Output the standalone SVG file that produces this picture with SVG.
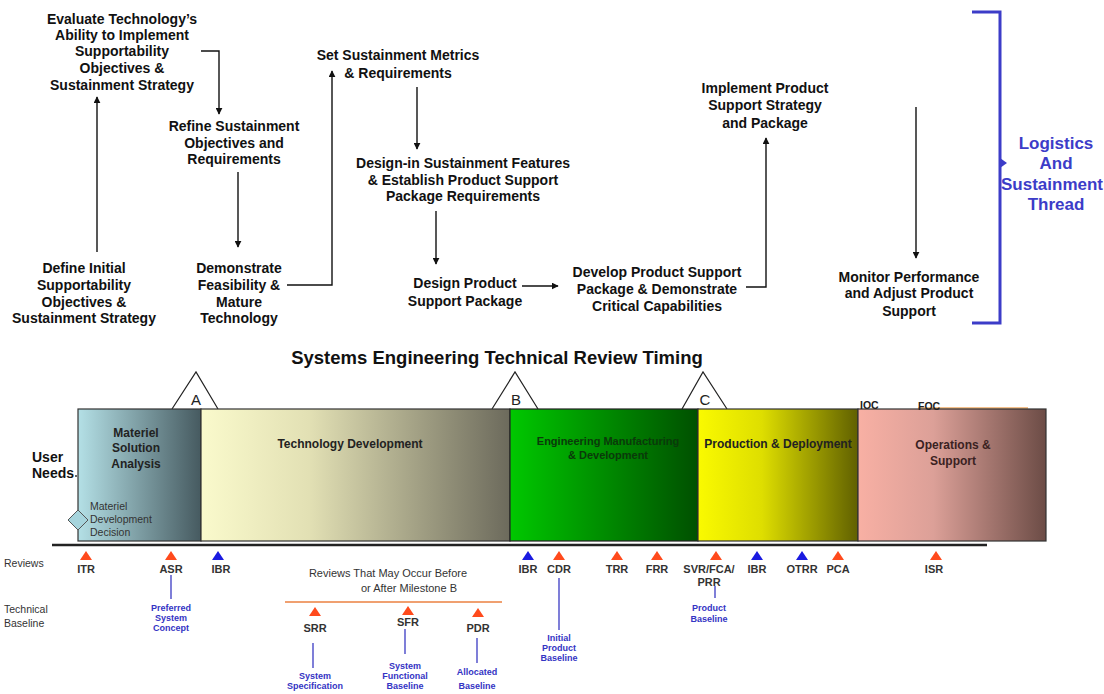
<svg xmlns="http://www.w3.org/2000/svg" width="1104" height="694" viewBox="0 0 1104 694">
  <style>
    .step { font-family: "Liberation Sans", Arial, sans-serif; font-weight: bold; font-size: 14px; fill: #111; text-anchor: middle; }
    .thread { font-family: "Liberation Sans", Arial, sans-serif; font-weight: bold; font-size: 17px; fill: #3c3cc8; text-anchor: middle; }
    .title { font-family: "Liberation Sans", Arial, sans-serif; font-weight: bold; font-size: 18.5px; fill: #111; text-anchor: middle; }
    .phase { font-family: "Liberation Sans", Arial, sans-serif; font-weight: bold; font-size: 12px; fill: #222; text-anchor: middle; }
    .ms { font-family: "Liberation Sans", Arial, sans-serif; font-size: 15px; fill: #222; text-anchor: middle; }
    .small { font-family: "Liberation Sans", Arial, sans-serif; font-size: 10.5px; fill: #333; }
    .rev { font-family: "Liberation Sans", Arial, sans-serif; font-weight: bold; font-size: 11px; fill: #333; text-anchor: middle; }
    .base { font-family: "Liberation Sans", Arial, sans-serif; font-weight: bold; font-size: 9px; fill: #3434c4; text-anchor: middle; }
    .flow { fill: none; stroke: #111; stroke-width: 1.4; }
    .tick { stroke: #4848c8; stroke-width: 1.4; }
    .red { fill: #ff4a1c; }
    .blue { fill: #1a1ae0; }
  </style>
  <defs>
    <marker id="arr" viewBox="0 0 10 10" refX="9" refY="5" markerWidth="7" markerHeight="7" orient="auto" markerUnits="userSpaceOnUse">
      <path d="M0,0 L10,5 L0,10 z" fill="#111"/>
    </marker>
    <linearGradient id="gMSA" x1="0" x2="1" y1="0" y2="0">
      <stop offset="0" stop-color="#b4e0e6"/>
      <stop offset="1" stop-color="#465a60"/>
    </linearGradient>
    <linearGradient id="gTD" x1="0" x2="1" y1="0" y2="0">
      <stop offset="0" stop-color="#fafacc"/>
      <stop offset="0.35" stop-color="#e2e0b4"/>
      <stop offset="1" stop-color="#6c6a5c"/>
    </linearGradient>
    <linearGradient id="gEMD" x1="0" x2="1" y1="0" y2="0">
      <stop offset="0" stop-color="#00c800"/>
      <stop offset="1" stop-color="#005000"/>
    </linearGradient>
    <linearGradient id="gPD" x1="0" x2="1" y1="0" y2="0">
      <stop offset="0" stop-color="#fafa00"/>
      <stop offset="0.4" stop-color="#dede00"/>
      <stop offset="1" stop-color="#606000"/>
    </linearGradient>
    <linearGradient id="gOS" x1="0" x2="1" y1="0" y2="0">
      <stop offset="0" stop-color="#f8b0a4"/>
      <stop offset="0.4" stop-color="#dca098"/>
      <stop offset="1" stop-color="#6c4c46"/>
    </linearGradient>
  </defs>

  <!-- Logistics and sustainment thread: steps -->
  <g id="node-evaluate">
    <text class="step" x="122" y="24">Evaluate Technology’s</text>
    <text class="step" x="122" y="40">Ability to Implement</text>
    <text class="step" x="122" y="56">Supportability</text>
    <text class="step" x="122" y="73">Objectives &amp;</text>
    <text class="step" x="122" y="90">Sustainment Strategy</text>
  </g>
  <g id="node-refine">
    <text class="step" x="234" y="131">Refine Sustainment</text>
    <text class="step" x="234" y="148">Objectives and</text>
    <text class="step" x="234" y="164">Requirements</text>
  </g>
  <g id="node-define">
    <text class="step" x="84" y="273">Define Initial</text>
    <text class="step" x="84" y="290">Supportability</text>
    <text class="step" x="84" y="307">Objectives &amp;</text>
    <text class="step" x="84" y="323">Sustainment Strategy</text>
  </g>
  <g id="node-demonstrate">
    <text class="step" x="239" y="273">Demonstrate</text>
    <text class="step" x="239" y="290">Feasibility &amp;</text>
    <text class="step" x="239" y="307">Mature</text>
    <text class="step" x="239" y="323">Technology</text>
  </g>
  <g id="node-metrics">
    <text class="step" x="398" y="60">Set Sustainment Metrics</text>
    <text class="step" x="398" y="78">&amp; Requirements</text>
  </g>
  <g id="node-designin">
    <text class="step" x="463" y="168">Design-in Sustainment Features</text>
    <text class="step" x="463" y="185">&amp; Establish Product Support</text>
    <text class="step" x="463" y="201">Package Requirements</text>
  </g>
  <g id="node-design">
    <text class="step" x="465" y="288">Design Product</text>
    <text class="step" x="465" y="306">Support Package</text>
  </g>
  <g id="node-develop">
    <text class="step" x="657" y="277">Develop Product Support</text>
    <text class="step" x="657" y="294">Package &amp; Demonstrate</text>
    <text class="step" x="657" y="311">Critical Capabilities</text>
  </g>
  <g id="node-implement">
    <text class="step" x="765" y="93">Implement Product</text>
    <text class="step" x="765" y="110">Support Strategy</text>
    <text class="step" x="765" y="128">and Package</text>
  </g>
  <g id="node-monitor">
    <text class="step" x="909" y="282">Monitor Performance</text>
    <text class="step" x="909" y="298">and Adjust Product</text>
    <text class="step" x="909" y="316">Support</text>
  </g>
  <g id="node-thread">
    <path d="M972,12 H1000 V323 H972" fill="none" stroke="#3c3cc8" stroke-width="3"/>
    <path d="M1000,158 L1007,163 L1000,168 z" fill="#3c3cc8"/>
    <text class="thread" x="1056" y="149">Logistics</text>
    <text class="thread" x="1056" y="169">And</text>
    <text class="thread" x="1052" y="190">Sustainment</text>
    <text class="thread" x="1056" y="210">Thread</text>
  </g>

  <g id="connectors">
    <path class="flow" d="M97,252 V97" marker-end="url(#arr)"/>
    <path class="flow" d="M201,51 H219 V114" marker-end="url(#arr)"/>
    <path class="flow" d="M238,172 V247" marker-end="url(#arr)"/>
    <path class="flow" d="M287,285 H332 V71" marker-end="url(#arr)"/>
    <path class="flow" d="M417,87 V149" marker-end="url(#arr)"/>
    <path class="flow" d="M436,211 V264" marker-end="url(#arr)"/>
    <path class="flow" d="M522,286 H558" marker-end="url(#arr)"/>
    <path class="flow" d="M746,287 H766 V138" marker-end="url(#arr)"/>
    <path class="flow" d="M916,107 V258" marker-end="url(#arr)"/>
  </g>

  <!-- Technical review timing -->
  <text class="title" x="497" y="364">Systems Engineering Technical Review Timing</text>

  <g id="milestones" fill="#fff" stroke="#222" stroke-width="1.2">
    <path d="M172,409 L196,372 L218,409"/>
    <path d="M492,409 L515,372 L538,409"/>
    <path d="M682,409 L703,372 L727,409"/>
  </g>

  <g id="phase-msa">
    <rect x="78" y="409" width="123" height="132" fill="url(#gMSA)" stroke="#333" stroke-width="1.2"/>
    <text class="phase" x="136" y="437">Materiel</text>
    <text class="phase" x="136" y="452">Solution</text>
    <text class="phase" x="136" y="468">Analysis</text>
  </g>
  <g id="phase-td">
    <rect x="201" y="409" width="309" height="132" fill="url(#gTD)" stroke="#333" stroke-width="1.2"/>
    <text class="phase" x="350" y="448">Technology Development</text>
  </g>
  <g id="phase-emd">
    <rect x="510" y="409" width="188" height="132" fill="url(#gEMD)" stroke="#222" stroke-width="1.2"/>
    <text class="phase" x="608" y="445" style="font-size:11px;fill:#0a3a0a">Engineering Manufacturing</text>
    <text class="phase" x="608" y="459" style="font-size:11px;fill:#0a3a0a">&amp; Development</text>
  </g>
  <g id="phase-pd">
    <rect x="698" y="409" width="160" height="132" fill="url(#gPD)" stroke="#333" stroke-width="1.2"/>
    <text class="phase" x="778" y="448">Production &amp; Deployment</text>
  </g>
  <g id="phase-os">
    <line x1="918" y1="408" x2="1028" y2="408" stroke="#f4c08c" stroke-width="2"/>
    <rect x="858" y="409" width="188" height="132" fill="url(#gOS)" stroke="#333" stroke-width="1.2"/>
    <text class="phase" x="953" y="449" style="fill:#3a2222">Operations &amp;</text>
    <text class="phase" x="953" y="465" style="fill:#3a2222">Support</text>
    <text class="small" x="860" y="409" style="font-weight:bold;fill:#222">IOC</text>
    <text class="small" x="918" y="410" style="font-weight:bold;fill:#222">FOC</text>
  </g>

  <g id="milestone-labels">
    <text class="ms" x="196" y="405">A</text>
    <text class="ms" x="516" y="405">B</text>
    <text class="ms" x="705" y="405">C</text>
  </g>

  <g id="user-needs">
    <text x="32" y="462" style="font-family:'Liberation Sans',Arial,sans-serif;font-weight:bold;font-size:14px;fill:#111">User</text>
    <text x="32" y="478" style="font-family:'Liberation Sans',Arial,sans-serif;font-weight:bold;font-size:14px;fill:#111">Needs</text>
    <circle cx="76" cy="476" r="1" fill="#333"/>
  </g>
  <g id="mdd">
    <path d="M78,510 L88,520 L78,530 L68,520 z" fill="#a6d4dc" stroke="#555" stroke-width="1"/>
    <text class="small" x="90" y="510">Materiel</text>
    <text class="small" x="90" y="523">Development</text>
    <text class="small" x="90" y="536">Decision</text>
  </g>

  <!-- review axis -->
  <g id="axis">
    <line x1="52" y1="545" x2="987" y2="545" stroke="#222" stroke-width="2.5"/>
    <text class="small" x="4" y="567">Reviews</text>
    <text class="small" x="4" y="613">Technical</text>
    <text class="small" x="4" y="627">Baseline</text>
  </g>

  <g id="reviews">
    <path class="red" d="M80,560 L86,551 L92,560 z"/><text class="rev" x="86" y="573">ITR</text>
    <path class="red" d="M165,560 L171,551 L177,560 z"/><text class="rev" x="171" y="573">ASR</text>
    <path class="blue" d="M212,560 L218,551 L224,560 z"/><text class="rev" x="221" y="573">IBR</text>
    <path class="blue" d="M522,560 L528,551 L534,560 z"/><text class="rev" x="528" y="573">IBR</text>
    <path class="red" d="M553,560 L559,551 L565,560 z"/><text class="rev" x="559" y="573">CDR</text>
    <path class="red" d="M611,560 L617,551 L623,560 z"/><text class="rev" x="617" y="573">TRR</text>
    <path class="red" d="M651,560 L657,551 L663,560 z"/><text class="rev" x="657" y="573">FRR</text>
    <path class="red" d="M710,560 L716,551 L722,560 z"/><text class="rev" x="709" y="573">SVR/FCA/</text><text class="rev" x="709" y="586">PRR</text>
    <path class="blue" d="M751,560 L757,551 L763,560 z"/><text class="rev" x="757" y="573">IBR</text>
    <path class="blue" d="M796,560 L802,551 L808,560 z"/><text class="rev" x="802" y="573">OTRR</text>
    <path class="red" d="M832,560 L838,551 L844,560 z"/><text class="rev" x="838" y="573">PCA</text>
    <path class="red" d="M930,560 L936,551 L942,560 z"/><text class="rev" x="934" y="573">ISR</text>
  </g>

  <g id="baselines">
    <line class="tick" x1="171" y1="575" x2="171" y2="599"/>
    <text class="base" x="171" y="611">Preferred</text>
    <text class="base" x="171" y="621">System</text>
    <text class="base" x="171" y="631">Concept</text>
    <line class="tick" x1="559" y1="578" x2="559" y2="630"/>
    <text class="base" x="559" y="641">Initial</text>
    <text class="base" x="559" y="651">Product</text>
    <text class="base" x="559" y="661">Baseline</text>
    <line class="tick" x1="715" y1="586" x2="715" y2="598"/>
    <text class="base" x="709" y="611">Product</text>
    <text class="base" x="709" y="622">Baseline</text>
  </g>

  <g id="optional-reviews">
    <text class="small" x="388" y="577" style="font-size:11px;text-anchor:middle">Reviews That May Occur Before</text>
    <text class="small" x="409" y="592" style="font-size:11px;text-anchor:middle">or After Milestone B</text>
    <line x1="285" y1="602" x2="502" y2="602" stroke="#f0a070" stroke-width="2"/>
    <path class="red" d="M309,616 L315,607 L321,616 z"/><text class="rev" x="315" y="632">SRR</text>
    <path class="red" d="M402,615 L408,606 L414,615 z"/><text class="rev" x="408" y="626">SFR</text>
    <path class="red" d="M472,617 L478,608 L484,617 z"/><text class="rev" x="478" y="632">PDR</text>
    <line class="tick" x1="313" y1="643" x2="313" y2="668"/>
    <text class="base" x="315" y="679">System</text>
    <text class="base" x="315" y="689">Specification</text>
    <line class="tick" x1="405" y1="629" x2="405" y2="654"/>
    <text class="base" x="405" y="669">System</text>
    <text class="base" x="405" y="679">Functional</text>
    <text class="base" x="405" y="689">Baseline</text>
    <line class="tick" x1="477" y1="638" x2="477" y2="663"/>
    <text class="base" x="477" y="675">Allocated</text>
    <text class="base" x="477" y="689">Baseline</text>
  </g>
</svg>
